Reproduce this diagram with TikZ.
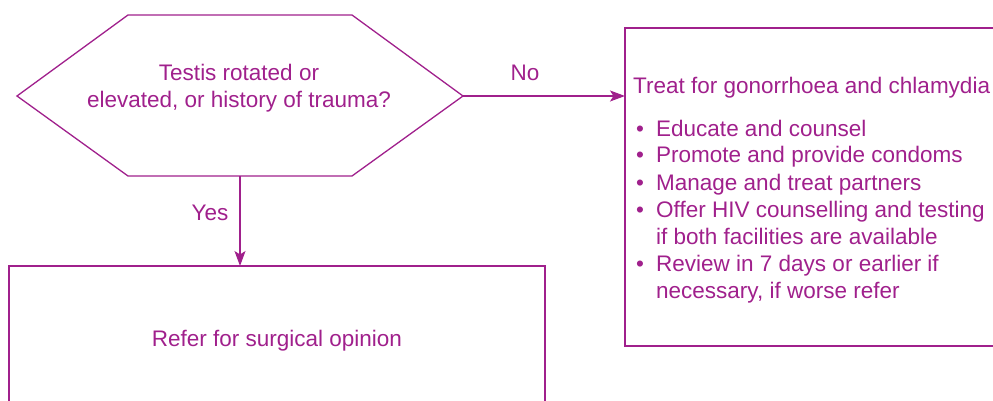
\documentclass[tikz,border=0pt]{standalone}
\usepackage{fontspec}
\setmainfont{Liberation Sans}
\usetikzlibrary{arrows.meta}
\definecolor{mag}{RGB}{160,32,140}
\begin{document}
\begin{tikzpicture}[x=1pt,y=-1pt,
  txt/.style={text=mag,inner sep=0pt,font=\fontsize{22.5}{27}\selectfont},
  outline/.style={draw=mag,line width=1.3pt},
  conn/.style={draw=mag,line width=1.3pt,-{Stealth[length=15pt,width=11pt,inset=3.5pt]}}]
\useasboundingbox (0,0) rectangle (993,401);
\clip (0,0) rectangle (993,401);
% hexagon
\coordinate (hl) at (17,96);
\coordinate (hr) at (463,96);
\coordinate (hb) at (240,176);
\draw[outline] (hl) -- (128,15) -- (352,15) -- (hr) -- (352,176) -- (128,176) -- cycle;
\node[txt,align=center,anchor=base] (q) at (239,108) {Testis rotated or\\elevated, or history of trauma?};
% right box
\draw[outline] (625,28) rectangle (1005,346);
\coordinate (tr) at (625,96);
\node[txt,anchor=base west] (treat) at (633,94) {Treat for gonorrhoea and chlamydia};
\node[txt,anchor=base west] (d1) at (636,136) {•};
\node[txt,anchor=base west] (i1) at (656,136) {Educate and counsel};
\node[txt,anchor=base west] (d2) at (636,163) {•};
\node[txt,anchor=base west] (i2) at (656,163) {Promote and provide condoms};
\node[txt,anchor=base west] (d3) at (636,190) {•};
\node[txt,anchor=base west] (i3) at (656,190) {Manage and treat partners};
\node[txt,anchor=base west] (d4) at (636,217) {•};
\node[txt,anchor=base west,align=left] (i4) at (656,244) {Offer HIV counselling and testing\\if both facilities are available};
\node[txt,anchor=base west] (d5) at (636,271) {•};
\node[txt,anchor=base west,align=left] (i5) at (656,298) {Review in 7 days or earlier if\\necessary, if worse refer};
% bottom box
\draw[outline] (9,266) rectangle (545,420);
\coordinate (bt) at (240,266);
\node[txt,anchor=base] (refer) at (277,346) {Refer for surgical opinion};
% connectors
\draw[conn] (hr) -- (tr);
\draw[conn] (hb) -- (bt);
\node[txt,anchor=base] (no) at (525,81) {No};
\node[txt,anchor=base] (yes) at (210,220) {Yes};
\end{tikzpicture}
\end{document}
